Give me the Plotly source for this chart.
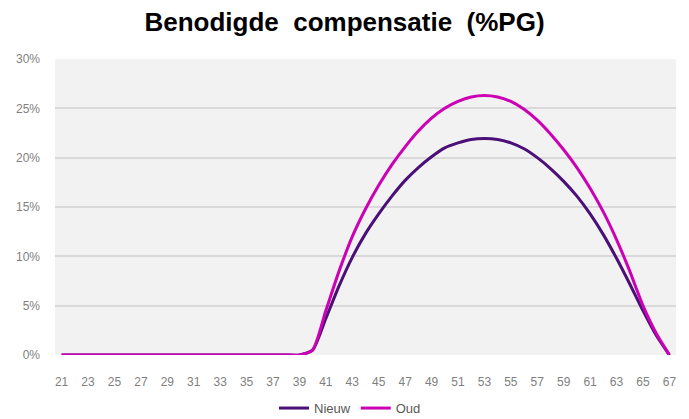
import plotly.graph_objects as go

ages = list(range(21, 68))
nieuw = [0.0] * 19 + [0.5, 3.7, 7.0, 9.9, 12.3, 14.3, 16.1, 17.7, 19.0, 20.1, 21.0, 21.5, 21.85, 21.95,
                      21.85, 21.5, 20.9, 20.0, 18.9, 17.6, 16.1, 14.3, 12.2, 9.8, 7.2, 4.5, 2.0, 0.0]
oud = [0.0] * 19 + [0.5, 4.5, 8.5, 12.0, 14.8, 17.2, 19.3, 21.1, 22.7, 24.0, 25.0, 25.7, 26.15, 26.3,
                    26.15, 25.7, 24.9, 23.8, 22.4, 20.8, 19.0, 16.9, 14.5, 11.7, 8.5, 5.0, 2.2, 0.0]
x_ticks = list(range(21, 68, 2))
y_ticks = [0, 5, 10, 15, 20, 25, 30]

fig = go.Figure()
fig.add_trace(go.Scatter(x=ages, y=nieuw, name="Nieuw", mode="lines",
                         line=dict(color="#4b0f78", width=3, shape="spline", smoothing=0.6)))
fig.add_trace(go.Scatter(x=ages, y=oud, name="Oud", mode="lines",
                         line=dict(color="#cc00b4", width=3, shape="spline", smoothing=0.6)))

fig.update_layout(
    width=689, height=419,
    margin=dict(l=55, r=13, t=59, b=64, autoexpand=False),
    paper_bgcolor="white",
    plot_bgcolor="#f2f2f2",
    font=dict(family="Liberation Sans, Arial, sans-serif", color="#7f7f7f", size=12),
    title=dict(text="<b>Benodigde  compensatie  (%PG)</b>", x=0.5, xanchor="center",
               y=0.948, yanchor="middle",
               font=dict(family="Liberation Sans, Arial, sans-serif", size=26, color="black")),
    xaxis=dict(range=[20.5, 67.5], tickmode="array", tickvals=x_ticks,
               ticktext=[str(v) for v in x_ticks], showgrid=False, zeroline=False,
               showline=False, ticks="", ticklabelstandoff=18, automargin=False,
               tickfont=dict(size=12, color="#7f7f7f")),
    yaxis=dict(range=[0, 30], tickmode="array", tickvals=y_ticks,
               ticktext=[f"{v}%" for v in y_ticks], showgrid=True, gridcolor="#d9d9d9",
               gridwidth=1.5, zeroline=False, showline=False, ticks="",
               ticklabelstandoff=14, automargin=False,
               tickfont=dict(size=12, color="#7f7f7f")),
    legend=dict(orientation="h", xref="container", x=0.508, xanchor="center",
                yref="container", y=0.026, yanchor="middle",
                font=dict(size=13, color="#595959")),
    showlegend=True,
)

fig.write_html("out.html", config={"displayModeBar": False},
               post_script="document.body.style.margin='0';")
